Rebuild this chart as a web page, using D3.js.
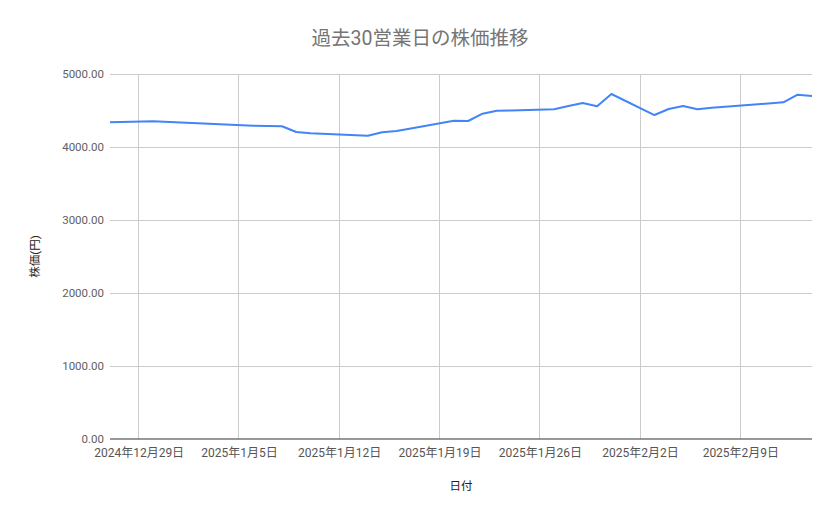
<!DOCTYPE html>
<html><head><meta charset="utf-8">
<script src="https://cdn.jsdelivr.net/npm/d3@7"></script>
<style>
body{margin:0;background:#fff;}
text{font-family:Roboto,"Noto Sans CJK JP",sans-serif;}
</style></head>
<body>
<svg id="chart" width="839" height="519"></svg>
<script>
const dates = ["2024-12-27","2024-12-30","2025-01-06","2025-01-07","2025-01-08","2025-01-09","2025-01-10",
"2025-01-14","2025-01-15","2025-01-16","2025-01-17","2025-01-20","2025-01-21","2025-01-22","2025-01-23","2025-01-24",
"2025-01-27","2025-01-28","2025-01-29","2025-01-30","2025-01-31","2025-02-03","2025-02-04","2025-02-05","2025-02-06","2025-02-07",
"2025-02-10","2025-02-12","2025-02-13","2025-02-14"];
const prices = [4338,4352,4292,4288,4284,4205,4187,
4155,4201,4219,4253,4361,4356,4456,4497,4500,
4518,4562,4603,4557,4726,4438,4521,4562,4516,4538,
4582,4612,4716,4699];
const xTickDates = ["2024-12-29","2025-01-05","2025-01-12","2025-01-19","2025-01-26","2025-02-02","2025-02-09"];
const yTicks = [0,1000,2000,3000,4000,5000];
const title = "過去30営業日の株価推移";
const xTitle = "日付";
const yTitle = "株価(円)";

const parse = d3.utcParse("%Y-%m-%d");
const data = dates.map((d,i)=>({date:parse(d), v:prices[i]}));
const svg = d3.select("#chart");
const m = {left:110, right:812, top:74, bottom:439};

const x = d3.scaleUtc().domain([parse("2024-12-27"), parse("2025-02-14")]).range([m.left, m.right]);
const y = d3.scaleLinear().domain([0,5000]).range([m.bottom, m.top]);
const fmtDate = d => `${d.getUTCFullYear()}年${d.getUTCMonth()+1}月${d.getUTCDate()}日`;

// horizontal grid
svg.append("g").selectAll("line").data(yTicks.slice(1)).join("line")
  .attr("x1", m.left).attr("x2", m.right)
  .attr("y1", d=>y(d)).attr("y2", d=>y(d))
  .attr("stroke","#cccccc").attr("stroke-width",1).attr("shape-rendering","crispEdges");
// vertical grid
const xt = xTickDates.map(parse);
svg.append("g").selectAll("line").data(xt).join("line")
  .attr("x1", d=>x(d)).attr("x2", d=>x(d))
  .attr("y1", m.top).attr("y2", m.bottom)
  .attr("stroke","#cccccc").attr("stroke-width",1).attr("shape-rendering","crispEdges");

// y axis labels
const yAxis = d3.axisLeft(y).tickValues(yTicks).tickFormat(d3.format(".2f")).tickSize(0).tickPadding(6);
const gy = svg.append("g").attr("transform",`translate(${m.left},0)`).call(yAxis);
gy.select(".domain").remove();
gy.selectAll("text").attr("fill","#616161").attr("font-size",11.5).attr("font-family","Roboto,sans-serif");

// x axis labels
const xAxis = d3.axisBottom(x).tickValues(xt).tickFormat(fmtDate).tickSize(0).tickPadding(9);
const gx = svg.append("g").attr("transform",`translate(0,${m.bottom})`).call(xAxis);
gx.select(".domain").remove();
gx.selectAll("text").attr("fill","#555").attr("font-size",12).attr("font-family","Roboto,'Noto Sans CJK JP',sans-serif");

// baseline
svg.append("line").attr("x1",m.left).attr("x2",m.right).attr("y1",y(0)).attr("y2",y(0))
  .attr("stroke","#333").attr("stroke-width",1.2);

// line
svg.append("path").datum(data)
  .attr("fill","none").attr("stroke","#4285f4").attr("stroke-width",2).attr("stroke-linejoin","round")
  .attr("d", d3.line().x(d=>x(d.date)).y(d=>y(d.v)));

// titles
svg.append("text").attr("x",420).attr("y",45).attr("text-anchor","middle")
  .attr("fill","#757575").attr("font-size",19.5).text(title);
svg.append("text").attr("x",(m.left+m.right)/2).attr("y",490).attr("text-anchor","middle")
  .attr("fill","#222").attr("font-size",11.5).text(xTitle);
svg.append("text").attr("transform",`translate(39,${(m.top+m.bottom)/2}) rotate(-90)`).attr("text-anchor","middle")
  .attr("fill","#222").attr("font-size",11.5).text(yTitle);
</script>
</body></html>
